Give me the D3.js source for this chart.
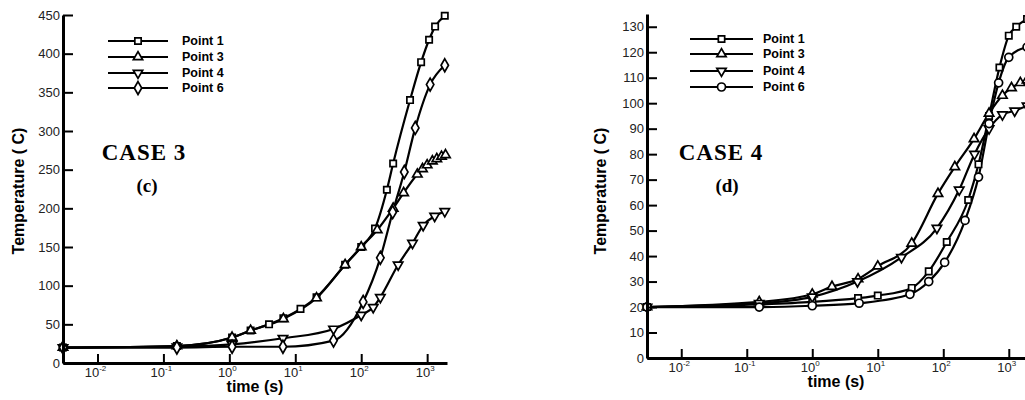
<!DOCTYPE html>
<html lang="en">
<head>
  <meta charset="utf-8">
  <title>Temperature vs time, cases 3 and 4</title>
  <script src="https://d3js.org/d3.v7.min.js" charset="utf-8"></script>
  <style>
    body { margin: 0; background: white; }
    text { font-family: "Liberation Sans", Arial, sans-serif; }
    text.serif { font-family: "Liberation Serif", "Times New Roman", serif; }
  </style>
</head>
<body>
<svg id="chart" width="1025" height="400"></svg>
<script>
  // tick values / labels on the time axis
  var timeTicks = [1e-2, 1e-1, 1, 10, 100, 1000];
  var timeExp = ["-2", "-1", "0", "1", "2", "3"];
  var seriesNames = ["Point 1", "Point 3", "Point 4", "Point 6"];

  // CASE 3 (c)
  var c3p1t = [0.003, 0.16, 1.1, 2.1, 4, 6.6, 12, 21, 57, 100, 162, 245, 305, 550, 810, 1070, 1320, 1850];
  var c3p1v = [20, 22, 33, 42, 50, 58, 70, 85, 127, 150, 174, 224, 258, 340, 389, 418, 435, 449];
  var c3p3t = [0.003, 0.16, 1.1, 2.1, 6.6, 21, 57, 100, 175, 305, 440, 710, 850, 1000, 1200, 1400, 1650, 1900];
  var c3p3v = [20, 22, 33, 42, 57, 84, 127, 150, 172, 200, 220, 244, 251, 256, 261, 264, 267, 269];
  var c3p4t = [0.003, 0.16, 1.1, 6.5, 38, 100, 152, 195, 363, 600, 870, 1300, 1850];
  var c3p4v = [20, 21, 24, 32, 44, 62, 72, 85, 127, 155, 178, 190, 196];
  var c3p6t = [0.003, 0.16, 1.1, 6.5, 38, 107, 195, 300, 450, 660, 1110, 1850];
  var c3p6v = [20, 20, 21, 21, 29, 79, 136, 195, 247, 304, 360, 385];

  // CASE 4 (d)
  var c4p1t = [0.003, 0.155, 1, 5, 10, 33, 60, 113, 240, 345, 500, 720, 1000, 1300, 1900];
  var c4p1v = [20, 21, 22, 23.5, 24.5, 27.5, 34, 45.5, 62, 76, 95, 114, 126.5, 130, 133];
  var c4p3t = [0.003, 0.155, 1, 2, 5, 10, 33, 83, 150, 295, 500, 800, 1100, 1500, 1900];
  var c4p3v = [20, 22, 25, 28, 31, 36, 45, 64.5, 75, 86, 96, 103, 106, 108, 109];
  var c4p4t = [0.003, 0.155, 1, 4.9, 23, 80, 175, 300, 500, 800, 1230, 1900];
  var c4p4v = [20, 21.5, 24, 30, 39.5, 51, 66, 80, 90, 95.5, 97, 99];
  var c4p6t = [0.003, 0.155, 1, 5.2, 31, 60, 105, 215, 345, 500, 700, 1000, 1900];
  var c4p6v = [20, 20, 20.5, 21.5, 25, 30, 37.5, 54, 71, 92, 108, 118, 122];

  var svg = d3.select("#chart");
  svg.append("rect").attr("width", 1025).attr("height", 400).attr("fill", "white");

  function zip(t, v) {
    return t.map(function(d, i) { return { t: d, v: v[i] }; });
  }

  function drawPanel(cfg) {
    var x = d3.scaleLog().domain([0.003, 2000]).range([cfg.x0, cfg.x1]);
    var y = d3.scaleLinear().domain([0, cfg.yMax]).range([cfg.y0, cfg.y1]);
    var g = svg.append("g");

    // curves
    var line = d3.line()
      .x(function(d) { return x(d.t); })
      .y(function(d) { return y(d.v); })
      .curve(d3.curveMonotoneX);

    cfg.series.forEach(function(s) {
      g.append("path")
        .datum(zip(s.t, s.v))
        .attr("d", line)
        .attr("fill", "none")
        .attr("stroke", "black")
        .attr("stroke-width", 2.2);
    });
    cfg.series.forEach(function(s) {
      g.selectAll(null)
        .data(zip(s.t, s.v))
        .enter().append("path")
        .attr("d", d3.symbol().type(s.sym).size(s.size))
        .attr("transform", function(d) {
          return "translate(" + x(d.t) + "," + y(d.v) + ")" + (s.flip ? " rotate(180)" : "");
        })
        .attr("fill", "white")
        .attr("stroke", "black")
        .attr("stroke-width", 1.7);
    });

    // minor x ticks
    var minors = [];
    for (var e = -3; e <= 3; e++) {
      for (var k = 2; k <= 9; k++) {
        var v = k * Math.pow(10, e);
        if (v >= 0.003 && v <= 2000) minors.push(v);
      }
    }
    var xa = g.append("g").attr("transform", "translate(0," + cfg.y0 + ")");
    xa.call(d3.axisBottom(x).tickValues(minors).tickSize(-5).tickSizeOuter(0).tickFormat(""));
    xa.call(d3.axisBottom(x).tickValues(timeTicks).tickSize(-9).tickSizeOuter(0).tickFormat(""));
    xa.selectAll(".tick line").attr("stroke", "black").attr("stroke-width", 2);
    xa.selectAll(".domain").attr("stroke", "black").attr("stroke-width", 3);

    var lab = xa.selectAll(".xlab")
      .data(timeTicks)
      .enter().append("text")
      .attr("class", "xlab")
      .attr("x", function(d) { return x(d) - 2; })
      .attr("y", 14)
      .attr("text-anchor", "middle")
      .attr("fill", "#222")
      .attr("font-size", "13px");
    lab.append("tspan").text("10");
    lab.append("tspan")
      .attr("dy", "-6")
      .attr("font-size", "8px")
      .text(function(d, i) { return timeExp[i]; });

    // y axis
    var ya = g.append("g").attr("transform", "translate(" + cfg.x0 + ",0)");
    ya.call(d3.axisLeft(y).tickValues(d3.range(0, cfg.yMax + 0.01, cfg.minorStep)).tickSize(-6).tickSizeOuter(0).tickFormat(""));
    ya.call(d3.axisLeft(y).tickValues(d3.range(0, cfg.yMax + 0.01, cfg.majorStep)).tickSize(-10).tickSizeOuter(0).tickPadding(3));
    ya.selectAll(".tick line").attr("stroke", "black").attr("stroke-width", 2);
    ya.selectAll(".domain").attr("stroke", "black").attr("stroke-width", 3);
    ya.selectAll(".tick text")
      .attr("fill", "#222")
      .attr("font-size", "13px");

    // axis titles
    g.append("text")
      .attr("transform", "translate(" + cfg.yTitleX + "," + 191 + ") rotate(-90)")
      .attr("text-anchor", "middle")
      .attr("font-size", "16px")
      .attr("font-weight", "bold")
      .text("Temperature ( C)");
    g.append("text")
      .attr("x", cfg.xTitleX)
      .attr("y", cfg.xTitleY)
      .attr("text-anchor", "middle")
      .attr("font-size", "16px")
      .attr("font-weight", "bold")
      .text("time (s)");

    // legend
    cfg.series.forEach(function(s, i) {
      var ly = cfg.legRows[i];
      g.append("line")
        .attr("x1", cfg.legX1).attr("x2", cfg.legX2)
        .attr("y1", ly).attr("y2", ly)
        .attr("stroke", "black").attr("stroke-width", 2.2);
      g.append("path")
        .attr("d", d3.symbol().type(s.sym).size(s.size))
        .attr("transform", "translate(" + (cfg.legX1 + cfg.legX2) / 2 + "," + ly + ")" + (s.flip ? " rotate(180)" : ""))
        .attr("fill", "white")
        .attr("stroke", "black")
        .attr("stroke-width", 1.7);
      g.append("text")
        .attr("x", cfg.legText)
        .attr("y", ly)
        .attr("dy", "0.35em")
        .attr("font-size", "12.5px")
        .attr("font-weight", "bold")
        .text(seriesNames[i]);
    });

    // case labels
    g.append("text")
      .attr("class", "serif")
      .attr("x", cfg.caseX)
      .attr("y", 160)
      .attr("text-anchor", "middle")
      .attr("font-size", "23px")
      .attr("font-weight", "bold")
      .attr("letter-spacing", "1px")
      .text(cfg.caseText);
    g.append("text")
      .attr("class", "serif")
      .attr("x", cfg.subX)
      .attr("y", 192)
      .attr("text-anchor", "middle")
      .attr("font-size", "19px")
      .attr("font-weight", "bold")
      .text(cfg.subText);
  }

  drawPanel({
    x0: 63, x1: 447, y0: 363, y1: 15, yMax: 450, majorStep: 50, minorStep: 10,
    yTitleX: 24, xTitleX: 255, xTitleY: 392,
    legX1: 108, legX2: 168, legText: 182, legRows: [41, 57, 73, 88],
    caseX: 144, caseText: "CASE 3", subX: 147, subText: "(c)",
    series: [
      { t: c3p1t, v: c3p1v, sym: d3.symbolSquare, size: 40 },
      { t: c3p3t, v: c3p3v, sym: d3.symbolTriangle, size: 38 },
      { t: c3p4t, v: c3p4v, sym: d3.symbolTriangle, size: 38, flip: true },
      { t: c3p6t, v: c3p6v, sym: d3.symbolDiamond, size: 48 }
    ]
  });

  drawPanel({
    x0: 647, x1: 1028.5, y0: 358, y1: 14, yMax: 135, majorStep: 10, minorStep: 2,
    yTitleX: 606, xTitleX: 836, xTitleY: 387,
    legX1: 690, legX2: 753, legText: 763, legRows: [39, 54, 71, 87],
    caseX: 721, caseText: "CASE 4", subX: 727, subText: "(d)",
    series: [
      { t: c4p1t, v: c4p1v, sym: d3.symbolSquare, size: 40 },
      { t: c4p3t, v: c4p3v, sym: d3.symbolTriangle, size: 38 },
      { t: c4p4t, v: c4p4v, sym: d3.symbolTriangle, size: 38, flip: true },
      { t: c4p6t, v: c4p6v, sym: d3.symbolCircle, size: 50 }
    ]
  });
</script>
</body>
</html>
